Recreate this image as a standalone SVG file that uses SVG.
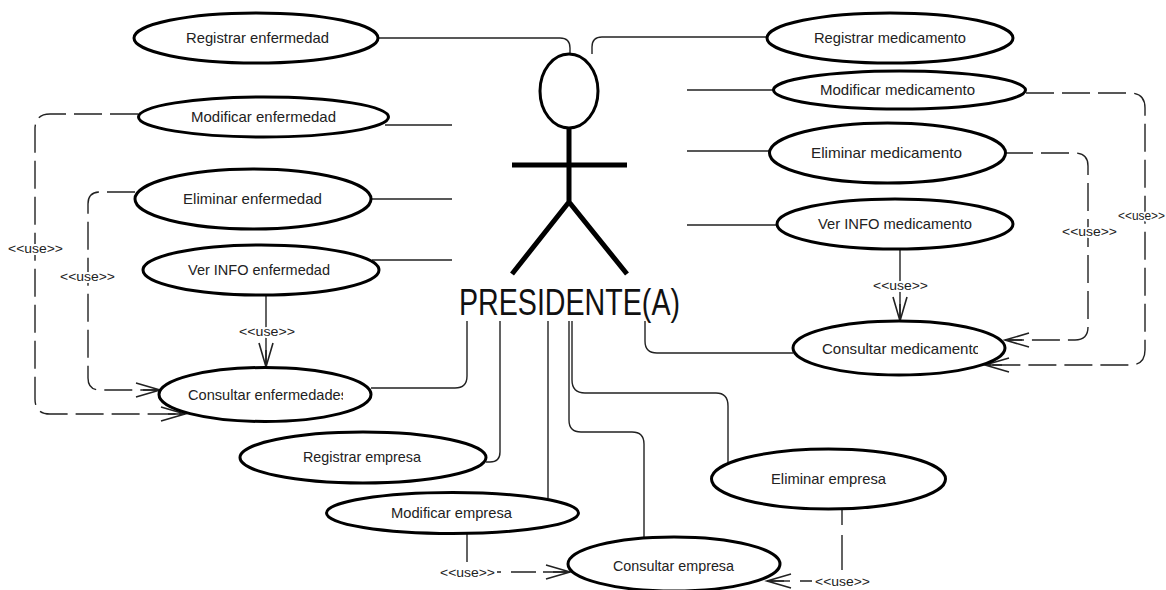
<svg xmlns="http://www.w3.org/2000/svg" width="1166" height="590" viewBox="0 0 1166 590">
<defs>
<style>
.n ellipse{fill:#fff;stroke:#000;stroke-width:3}
.n text,.u{font-family:"Liberation Sans",Arial,sans-serif;fill:#222}
.n text{font-size:15px}
.u{font-size:13px;stroke:#fff;stroke-width:4;paint-order:stroke;stroke-linejoin:round}
.c{fill:none;stroke:#222;stroke-width:1.4}
.d{stroke-dasharray:28 8}
.a{marker-end:url(#v)}
.s{fill:none;stroke:#000;stroke-width:5}
</style>
<marker id="v" markerUnits="userSpaceOnUse" markerWidth="30" markerHeight="20" refX="25" refY="10" orient="auto" overflow="visible"><path d="M1,3 L25,10 L1,17 M8,10 H25" fill="none" stroke="#222" stroke-width="1.6"/></marker>
<clipPath id="ce"><rect x="180" y="380" width="163" height="30"/></clipPath>
<clipPath id="cm"><rect x="815" y="335" width="163" height="30"/></clipPath>
</defs>
<rect width="1166" height="590" fill="#fff"/>
<g id="connectors">
<path class="c" d="M378,38H560Q570,38 570,48V55"/>
<path class="c" d="M768,37H602Q592,37 592,47V54"/>
<path class="c" d="M385,125H452M371,199H452M372,260H452"/>
<path class="c" d="M687,90H773M687,151H770M687,225H777"/>
<path class="c" d="M371,388H455Q467,388 467,376V321"/>
<path class="c" d="M486,462H490Q500,462 500,452V321"/>
<path class="c" d="M548,498V321"/>
<path class="c" d="M644,537V444Q644,432 632,432H581Q569,432 569,420V321"/>
<path class="c" d="M728,465V406Q728,393 716,393H585Q572,393 572,380V321"/>
<path class="c" d="M793,353H657Q645,353 645,341V321"/>
<path class="c d a" d="M138,114H50Q35,114 35,129V399Q35,414 50,414H185"/>
<path class="c d a" d="M135,192H100Q88,192 88,204V378Q88,390 100,390H160"/>
<path class="c a" d="M266,295V367"/>
<path class="c d a" d="M1026,93H1130Q1145,93 1145,108V350Q1145,365 1130,365H985"/>
<path class="c d a" d="M1005,153H1075Q1088,153 1088,166V327Q1088,340 1075,340H1005"/>
<path class="c a" d="M900,250V321"/>
<path class="c" d="M467,534V562M497,572H501"/>
<path class="c a" d="M511,572H536M543,572H570"/>
<path class="c" d="M842,509V525M842,535V570M812,581H800"/>
<path class="c a" d="M790,581H767"/>
</g>
<g id="actor">
<ellipse cx="569" cy="91" rx="29" ry="37" fill="#fff" stroke="#000" stroke-width="3"/>
<path class="s" d="M569,128V202M512,165H627M512,274L569,202L627,274"/>
<text x="459" y="315" font-family="Liberation Sans,Arial,sans-serif" font-size="36" fill="#111" textLength="221" lengthAdjust="spacingAndGlyphs">PRESIDENTE(A)</text>
</g>
<g id="n1" class="n"><ellipse cx="256" cy="38" rx="122" ry="25"/><text x="186" y="43" textLength="143" lengthAdjust="spacingAndGlyphs">Registrar enfermedad</text></g>
<g id="n2" class="n"><ellipse cx="263.5" cy="117" rx="125" ry="20"/><text x="191" y="122" textLength="145" lengthAdjust="spacingAndGlyphs">Modificar enfermedad</text></g>
<g id="n3" class="n"><ellipse cx="253" cy="199" rx="118" ry="30"/><text x="183" y="204" textLength="139" lengthAdjust="spacingAndGlyphs">Eliminar enfermedad</text></g>
<g id="n4" class="n"><ellipse cx="261" cy="270" rx="118" ry="25"/><text x="188" y="275" textLength="142" lengthAdjust="spacingAndGlyphs">Ver INFO enfermedad</text></g>
<g id="n5" class="n"><ellipse cx="265" cy="394.500" rx="106" ry="27"/><text x="188" y="400" textLength="160" lengthAdjust="spacingAndGlyphs" clip-path="url(#ce)">Consultar enfermedades</text></g>
<g id="n6" class="n"><ellipse cx="363" cy="457.500" rx="123" ry="25.500"/><text x="303" y="462" textLength="118" lengthAdjust="spacingAndGlyphs">Registrar empresa</text></g>
<g id="n7" class="n"><ellipse cx="452.500" cy="513" rx="126" ry="20.500"/><text x="391" y="518" textLength="121" lengthAdjust="spacingAndGlyphs">Modificar empresa</text></g>
<g id="n8" class="n"><ellipse cx="674" cy="564" rx="106" ry="27"/><text x="613" y="571" textLength="121" lengthAdjust="spacingAndGlyphs">Consultar empresa</text></g>
<g id="n9" class="n"><ellipse cx="828.500" cy="479" rx="117" ry="30"/><text x="771" y="484" textLength="115" lengthAdjust="spacingAndGlyphs">Eliminar empresa</text></g>
<g id="n10" class="n"><ellipse cx="899" cy="348" rx="106" ry="27"/><text x="822" y="354" textLength="159" lengthAdjust="spacingAndGlyphs" clip-path="url(#cm)">Consultar medicamento</text></g>
<g id="n11" class="n"><ellipse cx="890" cy="38" rx="123" ry="25"/><text x="814" y="43" textLength="152" lengthAdjust="spacingAndGlyphs">Registrar medicamento</text></g>
<g id="n12" class="n"><ellipse cx="899.500" cy="90" rx="126" ry="19"/><text x="820" y="95" textLength="155" lengthAdjust="spacingAndGlyphs">Modificar medicamento</text></g>
<g id="n13" class="n"><ellipse cx="887.500" cy="153" rx="118" ry="30"/><text x="811" y="158" textLength="151" lengthAdjust="spacingAndGlyphs">Eliminar medicamento</text></g>
<g id="n14" class="n"><ellipse cx="895" cy="224" rx="118" ry="25"/><text x="818" y="229" textLength="154" lengthAdjust="spacingAndGlyphs">Ver INFO medicamento</text></g>
<g id="labels">
<text class="u" x="8" y="253" textLength="55" lengthAdjust="spacingAndGlyphs">&lt;&lt;use&gt;&gt;</text>
<text class="u" x="60" y="281" textLength="55" lengthAdjust="spacingAndGlyphs">&lt;&lt;use&gt;&gt;</text>
<text class="u" x="239" y="336" textLength="56" lengthAdjust="spacingAndGlyphs">&lt;&lt;use&gt;&gt;</text>
<text class="u" x="1062" y="236" textLength="55" lengthAdjust="spacingAndGlyphs">&lt;&lt;use&gt;&gt;</text>
<text class="u" x="1118" y="220" textLength="47" lengthAdjust="spacingAndGlyphs">&lt;&lt;use&gt;&gt;</text>
<text class="u" x="873" y="290" textLength="55" lengthAdjust="spacingAndGlyphs">&lt;&lt;use&gt;&gt;</text>
<text class="u" x="440" y="577" textLength="55" lengthAdjust="spacingAndGlyphs">&lt;&lt;use&gt;&gt;</text>
<text class="u" x="815" y="586" textLength="55" lengthAdjust="spacingAndGlyphs">&lt;&lt;use&gt;&gt;</text>
</g>
</svg>
